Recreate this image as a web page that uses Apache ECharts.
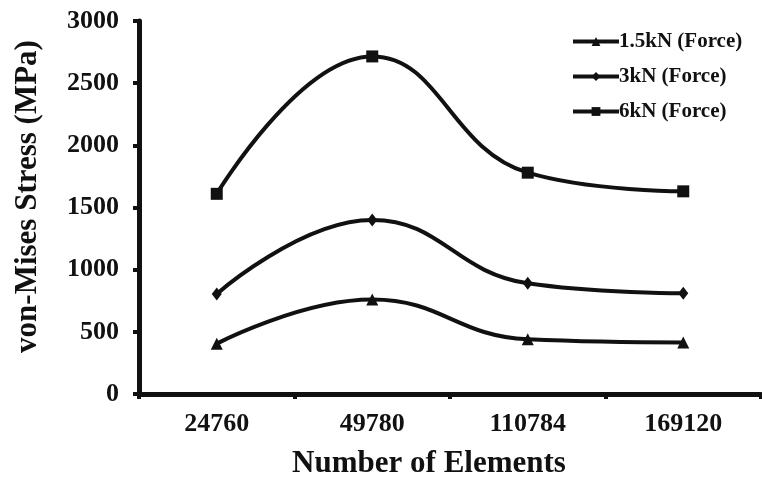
<!DOCTYPE html>
<html>
<head>
<meta charset="utf-8">
<script src="https://cdn.jsdelivr.net/npm/echarts@6/dist/echarts.min.js"></script>
<style>
  html, body { margin: 0; padding: 0; background: #ffffff; }
  #chart { width: 762px; height: 479px; }
</style>
</head>
<body>
<div id="chart"></div>
<script>
// Mesh sizes on the x axis and peak stress for each applied force
const elementCounts = ['24760', '49780', '110784', '169120'];
const stress1_5kN = [405, 760, 440, 415];
const stress3kN = [805, 1400, 890, 810];
const stress6kN = [1610, 2715, 1780, 1630];
const yTicks = { min: 0, max: 3000, step: 500 };

const ink = '#111111';
const serif = '"Liberation Serif", "Times New Roman", serif';

const chart = echarts.init(document.getElementById('chart'), null, { renderer: 'canvas' });

function lineSeries(name, data, symbol, size) {
  return {
    name: name,
    type: 'line',
    data: data,
    smooth: 0.45,
    symbol: symbol,
    symbolSize: size,
    showSymbol: true,
    lineStyle: { color: ink, width: 4 },
    itemStyle: { color: ink },
    emphasis: { disabled: true },
    animation: false
  };
}

chart.setOption({
  backgroundColor: '#ffffff',
  animation: false,
  grid: { left: 139, right: 1, top: 21, bottom: 85, containLabel: false, outerBoundsMode: 'none' },
  legend: {
    orient: 'vertical',
    left: 566,
    top: 26,
    itemWidth: 46,
    itemHeight: 11,
    itemGap: 14,
    lineStyle: { width: 4, color: ink },
    itemStyle: { color: ink },
    textStyle: { fontFamily: serif, fontWeight: 'bold', fontSize: 21, color: ink, padding: [0, 0, 0, -5] },
    data: ['1.5kN (Force)', '3kN (Force)', '6kN (Force)']
  },
  xAxis: {
    type: 'category',
    data: elementCounts,
    boundaryGap: true,
    name: 'Number of Elements',
    nameLocation: 'middle',
    nameGap: 54,
    nameTextStyle: { fontFamily: serif, fontWeight: 'bold', fontSize: 31, color: ink, padding: [0, 42, 0, 0] },
    axisLine: { show: true, lineStyle: { color: ink, width: 5 } },
    axisTick: { show: true, alignWithLabel: false, length: 5, lineStyle: { color: ink, width: 4 } },
    axisLabel: { margin: 17, fontFamily: serif, fontWeight: 'bold', fontSize: 26, color: ink },
    splitLine: { show: false }
  },
  yAxis: {
    type: 'value',
    min: yTicks.min,
    max: yTicks.max,
    interval: yTicks.step,
    name: 'von-Mises Stress (MPa)',
    nameLocation: 'middle',
    nameGap: 96,
    nameRotate: 90,
    nameTextStyle: { fontFamily: serif, fontWeight: 'bold', fontSize: 31, color: ink, padding: [0, 0, 0, 22] },
    axisLine: { show: true, lineStyle: { color: ink, width: 5 } },
    axisTick: { show: true, length: 6, lineStyle: { color: ink, width: 4 } },
    axisLabel: {
      margin: 20,
      fontFamily: serif,
      fontWeight: 'bold',
      fontSize: 26,
      color: ink,
      formatter: function (v) { return String(v); }
    },
    splitLine: { show: false }
  },
  series: [
    lineSeries('1.5kN (Force)', stress1_5kN, 'triangle', 12),
    lineSeries('3kN (Force)', stress3kN, 'diamond', [10, 13]),
    lineSeries('6kN (Force)', stress6kN, 'rect', 12)
  ]
});
</script>
</body>
</html>
